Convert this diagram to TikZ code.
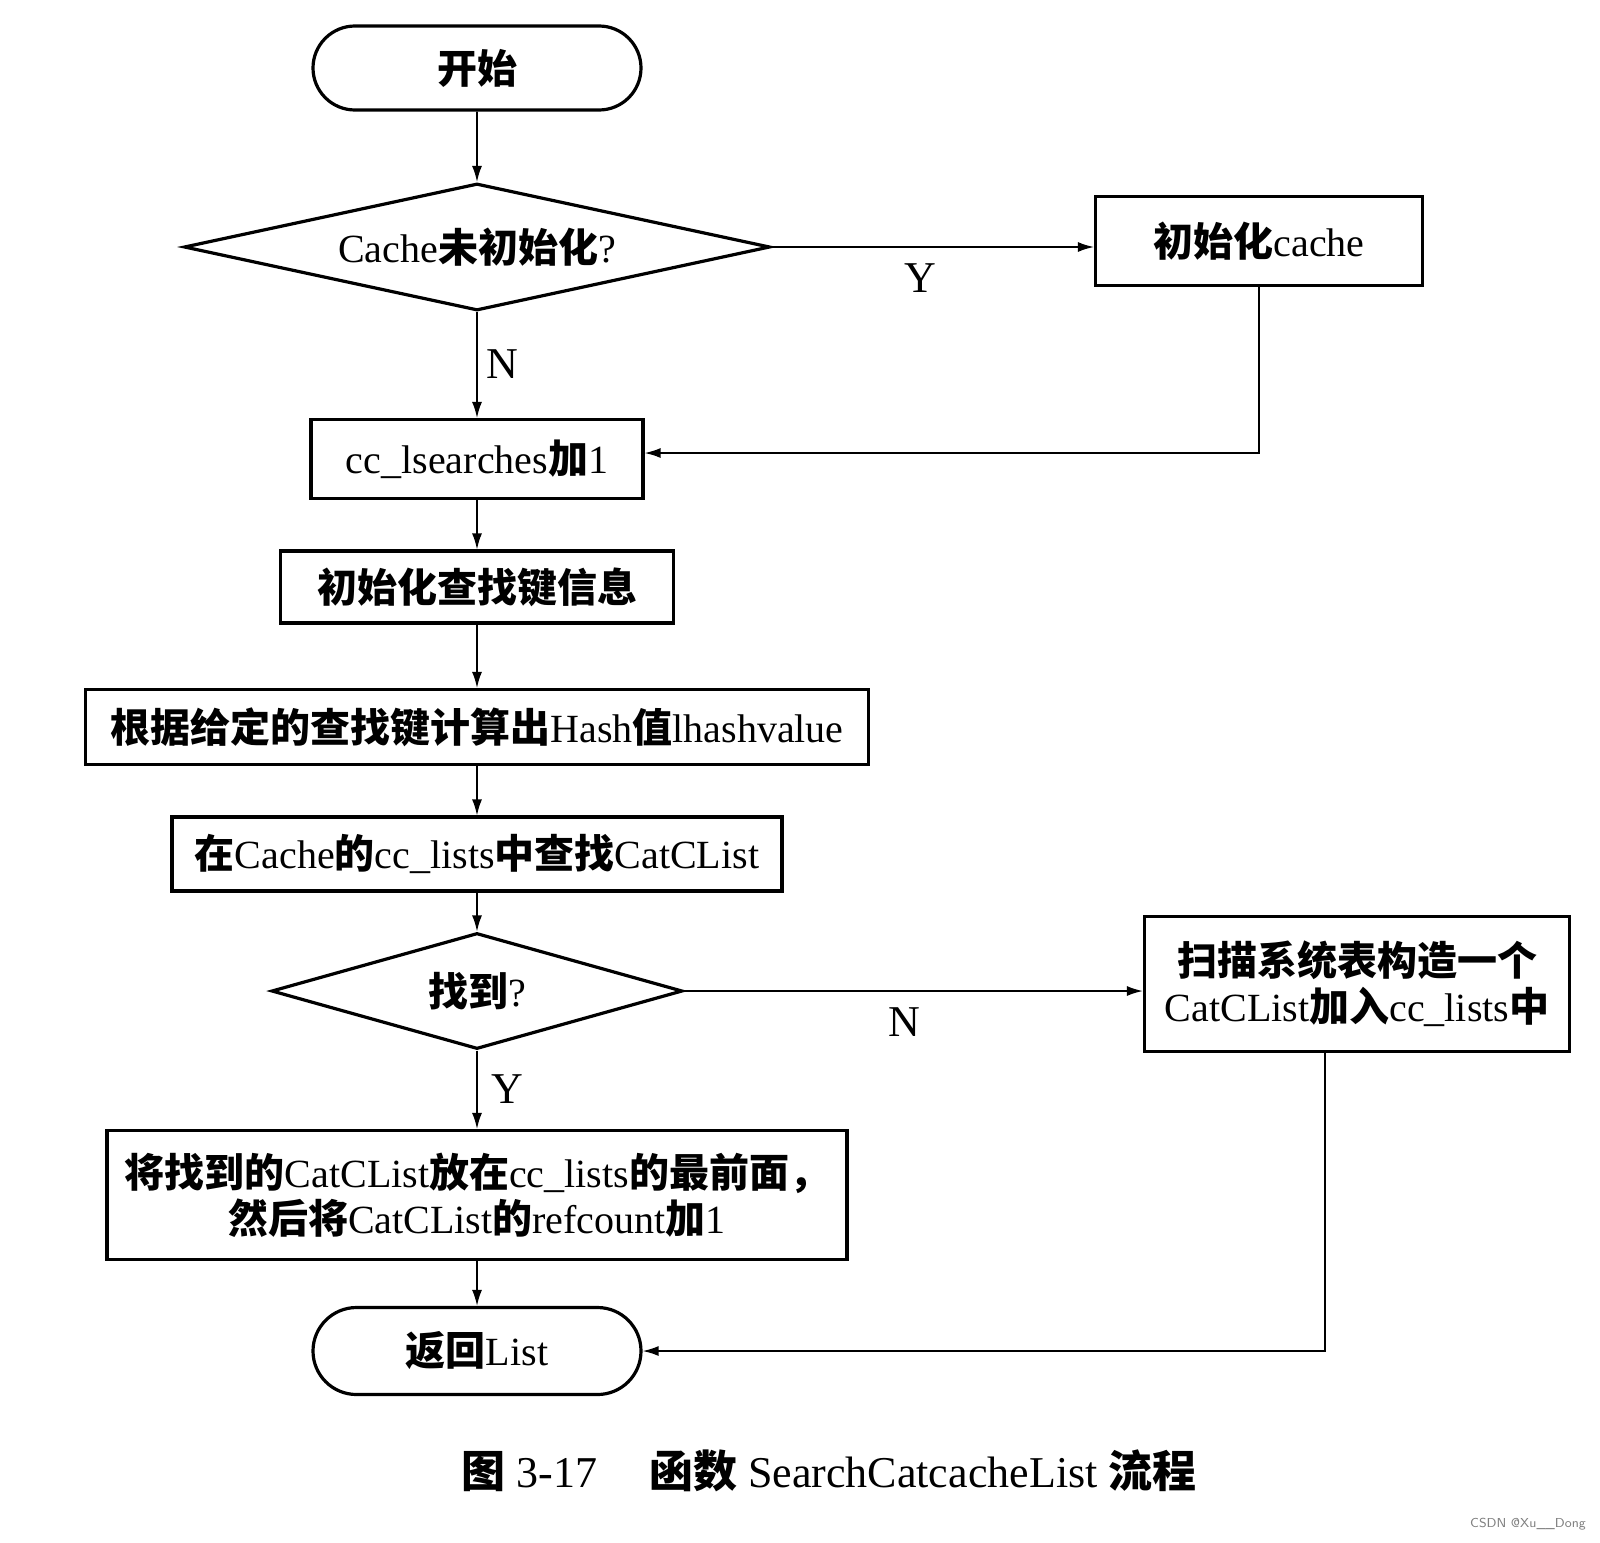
\documentclass[tikz,border=0pt]{standalone}
\usepackage{fontspec}
\setmainfont{Liberation Serif}
\newfontfamily\cjk{Noto Sans CJK SC}
\usetikzlibrary{shapes.geometric, shapes.misc, arrows.meta}
\newcommand{\zh}[1]{{\cjk\bfseries #1}}

\begin{document}
\begin{tikzpicture}[x=0.5pt,y=-0.5pt,
	every node/.style={font=\fontsize{20}{23}\selectfont, inner sep=0pt},
	proc/.style={draw, line width=1.6pt, rectangle, align=center},
	term/.style={draw, line width=1.6pt, rounded rectangle},
	ask/.style={draw, line width=1.6pt, diamond, aspect=4},
	flow/.style={line width=0.8pt, -{Latex[length=8pt,width=5pt]}},
	tag/.style={font=\fontsize{22}{22}\selectfont}]
	\useasboundingbox (0,0) rectangle (1600,1542);
	% main column
	\node[term, minimum width=164pt, minimum height=42pt] (start) at (477,68) {\zh{开始}};
	\node[ask, minimum width=293pt, minimum height=63.5pt] (isinit) at (477,247) {Cache\zh{未初始化}?};
	\node[proc, minimum width=166pt, minimum height=39.5pt] (incr) at (477,459) {cc\_lsearches\zh{加}1};
	\node[proc, minimum width=196.5pt, minimum height=36pt] (initkey) at (477,587) {\zh{初始化查找键信息}};
	\node[proc, minimum width=391.5pt, minimum height=37.5pt] (hash) at (477,727) {\zh{根据给定的查找键计算出}Hash\zh{值}lhashvalue};
	\node[proc, minimum width=305pt, minimum height=37pt] (lookup) at (477,854) {\zh{在}Cache\zh{的}cc\_lists\zh{中查找}CatCList};
	\node[ask, minimum width=205.5pt, minimum height=58pt] (found) at (477,991) {\zh{找到}?};
	\node[proc, minimum width=370pt, minimum height=64.5pt] (move) at (477,1195) {\zh{将找到的}CatCList\zh{放在}cc\_lists\zh{的最前面，}\\\zh{然后将}CatCList\zh{的}refcount\zh{加}1};
	\node[term, minimum width=164pt, minimum height=43.5pt] (stop) at (477,1351) {\zh{返回}List};
	% side branches
	\node[proc, minimum width=163.5pt, minimum height=44.5pt] (initc) at (1259,241) {\zh{初始化}cache};
	\node[proc, minimum width=212.5pt, minimum height=67.5pt] (scan) at (1357,984) {\zh{扫描系统表构造一个}\\CatCList\zh{加入}cc\_lists\zh{中}};
	\coordinate (sdrop) at (1325,1351);
	% branch labels
	\node[tag] (ylab1) at (920,278) {Y};
	\node[tag] (nlab1) at (502,364) {N};
	\node[tag] (nlab2) at (904,1022) {N};
	\node[tag] (ylab2) at (507,1089) {Y};
	% connectors
	\draw[flow] (start) -- (isinit);
	\draw[flow] (isinit.east) -- (isinit.east -| initc.west);
	\draw[flow] (isinit) -- (incr);
	\draw[flow] (initc.south) |- ([yshift=3pt]incr.east);
	\draw[flow] (incr) -- (initkey);
	\draw[flow] (initkey) -- (hash);
	\draw[flow] (hash) -- (lookup);
	\draw[flow] (lookup) -- (found);
	\draw[flow] (found.east) -- (found.east -| scan.west);
	\draw[flow] (found) -- (move);
	\draw[flow] (move) -- (stop);
	\draw[flow] (scan.south -| sdrop) -- (sdrop) -- (stop.east);
	% caption
	\node[font=\fontsize{22}{22}\selectfont] (caption) at (829,1471) {\zh{图} 3-17\hspace{26pt}\zh{函数} SearchCatcacheList \zh{流程}};
	\node[font=\fontsize{6.5}{7}\selectfont\sffamily, text=gray] (mark) at (1528,1524) {CSDN @Xu\_\_Dong};
\end{tikzpicture}
\end{document}
